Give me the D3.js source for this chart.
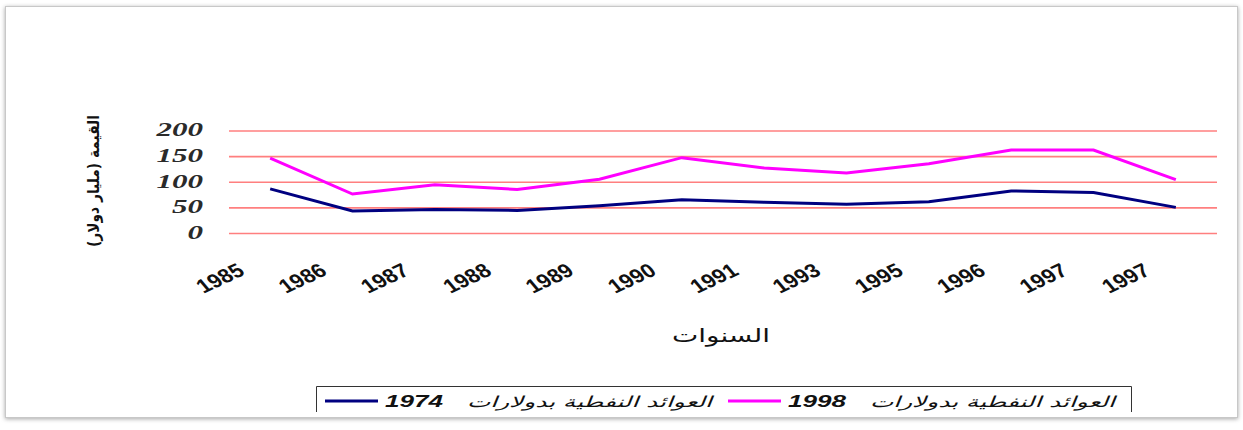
<!DOCTYPE html>
<html>
<head>
<meta charset="utf-8">
<script src="https://cdn.jsdelivr.net/npm/d3@7"></script>
<style>
  html, body { margin: 0; padding: 0; background: #fff; }
  svg { display: block; }
  .ytick text { font-family: "Liberation Serif", "DejaVu Serif", serif; font-style: italic; font-weight: bold; font-size: 18px; fill: #2a2a2a; }
  .xtick text { font-family: "Liberation Sans", Arial, sans-serif; font-weight: bold; font-size: 21px; fill: #111; }
  .ar { font-family: "DejaVu Sans", "Noto Sans", sans-serif; fill: #111; }
</style>
</head>
<body>
<svg id="chart" width="1243" height="430"></svg>
<script>
// years on the category axis (the last label repeats in the source)
var years = ["1985", "1986", "1987", "1988", "1989", "1990", "1991", "1993", "1995", "1996", "1997", "1997"];
// oil revenues, billion dollars
var rev1998 = [146, 76, 94, 85, 105, 147, 127, 117, 135, 162, 162, 104];
var rev1974 = [86, 43, 46, 44, 53, 65, 60, 56, 61, 82, 79, 50];
var yTicks = [0, 50, 100, 150, 200];

var yTitle = "القيمة (مليار دولار)";
var xTitle = "السنوات";
var legendText = "العوائد النفطية بدولارات";

var svg = d3.select("#chart");

// outer frame with soft shadow
var defs = svg.append("defs");
var f = defs.append("filter").attr("id", "shadow").attr("x", "-5%").attr("y", "-5%").attr("width", "110%").attr("height", "115%");
f.append("feDropShadow").attr("dx", 0).attr("dy", 1).attr("stdDeviation", 2).attr("flood-color", "#000").attr("flood-opacity", 0.35);
svg.append("rect").attr("x", 5.5).attr("y", 6.5).attr("width", 1232).attr("height", 411)
  .attr("fill", "#fff").attr("stroke", "#c8c8c8").attr("filter", "url(#shadow)");

var x0 = 229, x1 = 1217, yBot = 233, yTop = 130.5;
var x = d3.scaleBand().domain(d3.range(years.length)).range([x0, x1]);
var y = d3.scaleLinear().domain([0, 200]).range([yBot, yTop]);
var px = function (i) { return x(i) + x.bandwidth() / 2; };

// gridlines + y labels (the source glyphs are stretched wide)
var ya = svg.append("g").attr("class", "ytick").attr("transform", "translate(" + x0 + ",0)")
  .call(d3.axisLeft(y).tickValues(yTicks).tickSize(-(x1 - x0)).tickPadding(26));
ya.select(".domain").remove();
ya.selectAll("line").attr("stroke", "#ff7f7f").attr("stroke-width", 1.6);
ya.selectAll("text").attr("dy", "0.3em")
  .attr("textLength", function (d) { return String(d).length * 15.5; })
  .attr("lengthAdjust", "spacingAndGlyphs");

// x labels: slanted and sheared like the source
var xa = svg.append("g").attr("class", "xtick").attr("transform", "translate(0," + yBot + ")")
  .call(d3.axisBottom(x).tickFormat(function (i) { return years[i]; }).tickSize(0));
xa.select(".domain").remove();
xa.selectAll("text")
  .attr("text-anchor", "end")
  .attr("dy", null).attr("y", 0)
  .attr("textLength", 47).attr("lengthAdjust", "spacingAndGlyphs")
  .attr("transform", "translate(-24,41) rotate(-25) skewX(15)");

// series
var line = d3.line().x(function (d, i) { return px(i); }).y(function (d) { return y(d); });
svg.append("path").datum(rev1998).attr("d", line).attr("fill", "none")
  .attr("stroke", "#ff00ff").attr("stroke-width", 3);
svg.append("path").datum(rev1974).attr("d", line).attr("fill", "none")
  .attr("stroke", "#000080").attr("stroke-width", 3);

// axis titles
svg.append("text").attr("class", "ar").attr("transform", "translate(99,181) rotate(-90)")
  .attr("text-anchor", "middle").attr("font-size", 16).attr("font-weight", "bold")
  .attr("textLength", 132).attr("lengthAdjust", "spacingAndGlyphs").text(yTitle);
svg.append("text").attr("class", "ar").attr("x", 721).attr("y", 342)
  .attr("text-anchor", "middle").attr("font-size", 19)
  .attr("textLength", 98).attr("lengthAdjust", "spacingAndGlyphs").text(xTitle);

// legend box (bottom edge hidden by the frame)
svg.append("path").attr("d", "M316.5,412V386.5H1131.5V412").attr("fill", "none").attr("stroke", "#333").attr("stroke-width", 1);
var legend = [
  { color: "#ff00ff", year: "1998", x: 728 },
  { color: "#000080", year: "1974", x: 325 }
];
legend.forEach(function (d) {
  var g = svg.append("g");
  g.append("line").attr("x1", d.x).attr("x2", d.x + 53).attr("y1", 401).attr("y2", 401)
    .attr("stroke", d.color).attr("stroke-width", 3);
  g.append("text").attr("x", d.x + 60).attr("y", 407)
    .attr("font-family", "Liberation Sans, Arial, sans-serif").attr("font-weight", "bold").attr("font-style", "italic")
    .attr("font-size", 17).attr("fill", "#111")
    .attr("textLength", 58).attr("lengthAdjust", "spacingAndGlyphs").text(d.year);
  g.append("text").attr("class", "ar").attr("x", d.x + 142).attr("y", 407)
    .attr("font-size", 15).attr("font-style", "italic").attr("fill", "#222")
    .attr("textLength", 245).attr("lengthAdjust", "spacingAndGlyphs").text(legendText);
});
</script>
</body>
</html>
